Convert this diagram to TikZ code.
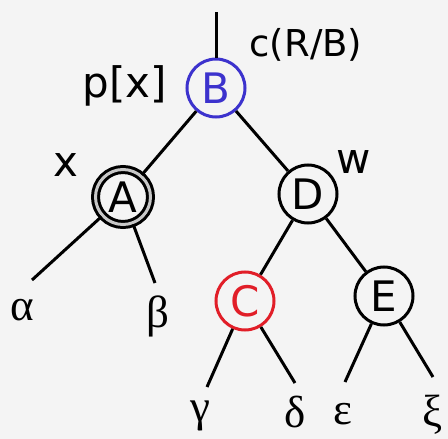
\documentclass[tikz,border=0pt]{standalone}
\usepackage{fontspec}
\setmainfont{DejaVu Sans}
\newfontfamily\greekfont{Liberation Serif}
\definecolor{bg}{RGB}{244,244,244}
\definecolor{nodeblue}{RGB}{60,50,205}
\definecolor{nodered}{RGB}{225,30,40}
\definecolor{gapgray}{RGB}{200,200,200}
\begin{document}
\begin{tikzpicture}[x=1pt,y=-1pt, line width=3pt,
  vtx/.style={circle, draw, minimum size=58pt, inner sep=0pt,
    font=\fontsize{42}{42}\selectfont},
  lbl/.style={inner sep=0pt, font=\fontsize{42}{42}\selectfont},
  leaf/.style={inner sep=0pt, font=\greekfont\fontsize{45}{45}\selectfont}]
\fill[bg] (0,0) rectangle (448,439);
\useasboundingbox (0,0) rectangle (448,439);

% tree nodes
\node[vtx, draw=nodeblue, text=nodeblue] (B) at (216,88) {B};
\node[vtx, minimum size=55pt, double=gapgray, double distance=3pt] (A) at (123,197) {A};
\node[vtx] (D) at (308,194) {D};
\node[vtx, draw=nodered, text=nodered] (C) at (245,301) {C};
\node[vtx] (E) at (384,296) {E};

% free ends of the subtree edges
\coordinate (top) at (216,12);
\coordinate (ta) at (32,280);
\coordinate (tb) at (155,283);
\coordinate (tg) at (207,387);
\coordinate (td) at (295,383);
\coordinate (te) at (345,382);
\coordinate (tx) at (433,377);

% edges
\draw (top) -- (B);
\draw (B) -- (A);
\draw (B) -- (D);
\draw (D) -- (C);
\draw (D) -- (E);
\draw (A) -- (ta);
\draw (A) -- (tb);
\draw (C) -- (tg);
\draw (C) -- (td);
\draw (E) -- (te);
\draw (E) -- (tx);

% subtree names
\node[leaf] (alpha) at (22,310) {α};
\node[leaf] (beta) at (158,316) {β};
\node[leaf] (gamma) at (200,416) {γ};
\node[leaf] (delta) at (295,412) {δ};
\node[leaf] (eps) at (343,414) {ε};
\node[leaf] (xi) at (433,415) {ξ};

% annotations
\node[lbl] (px) at (125,86) {p[x]};
\node[lbl, font=\fontsize{37}{37}\selectfont] (col) at (306,45) {c(R/B)};
\node[lbl] (xl) at (66,165) {x};
\node[lbl] (wl) at (354,162) {w};
\end{tikzpicture}
\end{document}
